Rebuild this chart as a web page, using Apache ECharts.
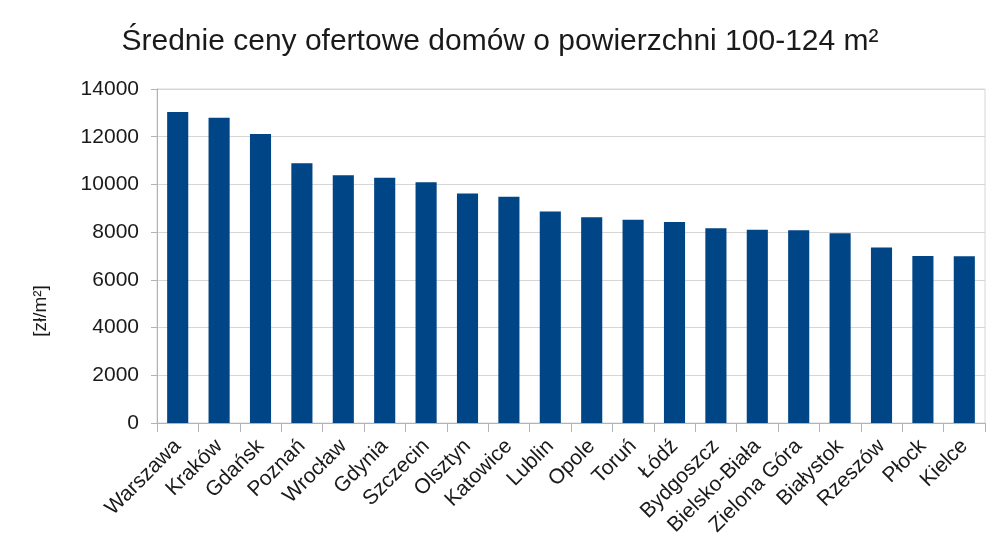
<!DOCTYPE html>
<html>
<head>
<meta charset="utf-8">
<script src="https://cdn.jsdelivr.net/npm/echarts@6/dist/echarts.min.js"></script>
<style>
    html, body { margin: 0; padding: 0; background: #fff; }
    #chart { width: 1000px; height: 557px; }
</style>
</head>
<body>
<div id="chart"></div>
<script>
    let cities = ['Warszawa', 'Kraków', 'Gdańsk', 'Poznań', 'Wrocław', 'Gdynia', 'Szczecin', 'Olsztyn', 'Katowice', 'Lublin',
        'Opole', 'Toruń', 'Łódź', 'Bydgoszcz', 'Bielsko-Biała', 'Zielona Góra', 'Białystok', 'Rzeszów', 'Płock', 'Kielce'];
    let prices = [13040, 12800, 12115, 10885, 10380, 10280, 10090, 9625, 9485, 8870,
        8620, 8520, 8420, 8160, 8100, 8075, 7950, 7360, 7000, 6985];

    let myChart = echarts.init(document.getElementById('chart'));
    let font = 'Liberation Sans, Arial, sans-serif';
    let option = {
        animation: false,
        textStyle: {
            fontFamily: font
        },
        title: {
            text: 'Średnie ceny ofertowe domów o powierzchni 100-124 m²',
            left: 'center',
            top: 22,
            textStyle: {
                fontFamily: font,
                fontSize: 30,
                fontWeight: 'normal',
                color: '#1a1a1a'
            }
        },
        grid: {
            left: 157,
            right: 15,
            top: 89,
            bottom: 134,
            show: true,
            borderColor: '#d6d6d6',
            borderWidth: 1
        },
        graphic: [
            {
                type: 'text',
                x: 41,
                y: 311,
                rotation: Math.PI / 2,
                style: {
                    text: '[zł/m²]',
                    fontFamily: font,
                    fontSize: 19,
                    fill: '#1a1a1a',
                    align: 'center',
                    verticalAlign: 'middle'
                }
            }
        ],
        xAxis: [
            {
                type: 'category',
                data: cities,
                axisLine: { lineStyle: { color: '#b3b3b3' } },
                axisTick: { show: true, length: 9, lineStyle: { color: '#b3b3b3' } },
                axisLabel: {
                    rotate: 45,
                    interval: 0,
                    margin: 20,
                    fontSize: 21,
                    color: '#1a1a1a'
                }
            }
        ],
        yAxis: [
            {
                type: 'value',
                min: 0,
                max: 14000,
                interval: 2000,
                axisLine: { show: true, lineStyle: { color: '#b3b3b3' } },
                axisTick: { show: true, length: 6, lineStyle: { color: '#b3b3b3' } },
                splitLine: { lineStyle: { color: '#d6d6d6' } },
                axisLabel: {
                    fontSize: 21,
                    margin: 18,
                    color: '#1a1a1a',
                    formatter: function (v) { return String(v); }
                }
            }
        ],
        series: [
            {
                name: '[zł/m²]',
                type: 'bar',
                barWidth: '51%',
                color: '#004586',
                data: prices
            }
        ]
    };
    myChart.setOption(option);
</script>
</body>
</html>
